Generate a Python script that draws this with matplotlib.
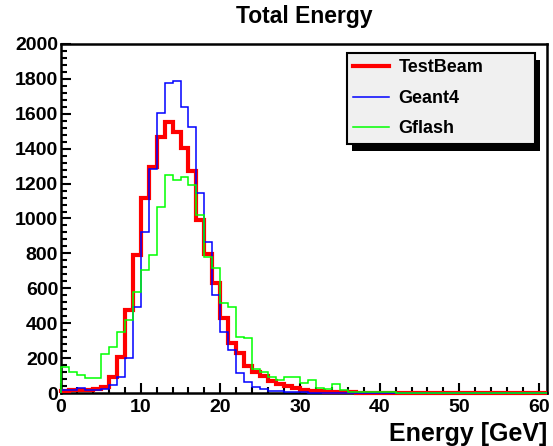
import matplotlib
matplotlib.use("Agg")
import matplotlib.pyplot as plt
from matplotlib.ticker import MultipleLocator
from matplotlib.patches import Rectangle
import numpy as np

plt.rcParams['font.family'] = ['Liberation Sans', 'DejaVu Sans']
plt.rcParams['font.weight'] = 'bold'

# 1 GeV bins from 0 to 61
edges = np.arange(0, 62, 1)

testbeam = [12, 15, 15, 18, 22, 36, 93, 205, 475, 790,
            1120, 1295, 1469, 1555, 1497, 1403, 1275, 990, 795, 630,
            430, 288, 229, 152, 120, 95, 70, 52, 38, 27,
            18, 13, 10, 7, 5, 4, 3, 2, 2, 1,
            1, 0, 0, 0, 0, 0, 0, 0, 0, 0,
            0, 0, 0, 0, 0, 0, 0, 0, 0, 0, 0]
geant4 = [15, 18, 30, 18, 15, 25, 45, 90, 200, 495,
          925, 1285, 1604, 1776, 1790, 1641, 1526, 1146, 867, 562,
          351, 246, 114, 65, 36, 22, 14, 10, 6, 4,
          3, 2, 2, 1, 1, 0, 0, 0, 0, 0,
          0, 0, 0, 0, 0, 0, 0, 0, 0, 0,
          0, 0, 0, 0, 0, 0, 0, 0, 0, 0, 0]
gflash = [150, 122, 103, 86, 84, 225, 262, 350, 418, 576,
          705, 790, 1068, 1249, 1221, 1240, 1192, 1020, 777, 716,
          515, 495, 323, 313, 140, 120, 93, 75, 93, 90,
          56, 75, 28, 25, 52, 15, 8, 8, 8, 8,
          8, 8, 0, 0, 0, 0, 0, 0, 0, 0,
          0, 0, 0, 0, 0, 0, 0, 0, 0, 0, 0]

fig = plt.figure(figsize=(5.53, 4.46), dpi=100)
ax = fig.add_axes([61/553, 1-393/446, (547-61)/553, (393-44)/446])

ax.stairs(testbeam, edges, color='#ff0000', lw=3, label='TestBeam', clip_on=False, zorder=3)
ax.stairs(geant4, edges, color='#0000ff', lw=1.1, label='Geant4', clip_on=False, zorder=4)
ax.stairs(gflash, edges, color='#00ff00', lw=1.1, label='Gflash', clip_on=False, zorder=5)

ax.set_xlim(0, 61)
ax.set_ylim(0, 2000)
ax.xaxis.set_major_locator(MultipleLocator(10))
ax.xaxis.set_minor_locator(MultipleLocator(2))
ax.yaxis.set_major_locator(MultipleLocator(200))
ax.yaxis.set_minor_locator(MultipleLocator(40))
ax.tick_params(which='both', direction='in', top=False, right=False, width=1.5,
               labelsize=14)
ax.tick_params(which='major', length=7)
ax.tick_params(which='minor', length=4)
ax.tick_params(axis='y', pad=2)
ax.tick_params(axis='x', pad=4)
for s in ax.spines.values():
    s.set_linewidth(1.8)

ax.set_title('Total Energy', fontsize=16.5, fontweight='bold', pad=15)
ax.set_xlabel('Energy [GeV]', fontsize=18, fontweight='bold', loc='right', labelpad=5)

leg = ax.legend(loc='upper left', bbox_to_anchor=(347/553, 1-143/446, (535-347)/553, 90/446),
                bbox_transform=fig.transFigure, mode='expand', borderaxespad=0,
                fancybox=False, framealpha=1, facecolor='#f0f0f0', edgecolor='black',
                fontsize=13, handlelength=2.0, handletextpad=0.5, labelspacing=0.75,
                borderpad=0.35)
leg.get_frame().set_linewidth(1.5)
leg.set_zorder(10)

# legend drop shadow, placed from the drawn legend box
fig.canvas.draw()
bb = leg.get_window_extent()
shadow = Rectangle((bb.x0 + 5, bb.y0 - 7), bb.width, bb.height, transform=None,
                   facecolor='black', edgecolor='none', zorder=9)
shadow.set_clip_on(False)
ax.add_artist(shadow)

fig.savefig('out.png', dpi=100)
